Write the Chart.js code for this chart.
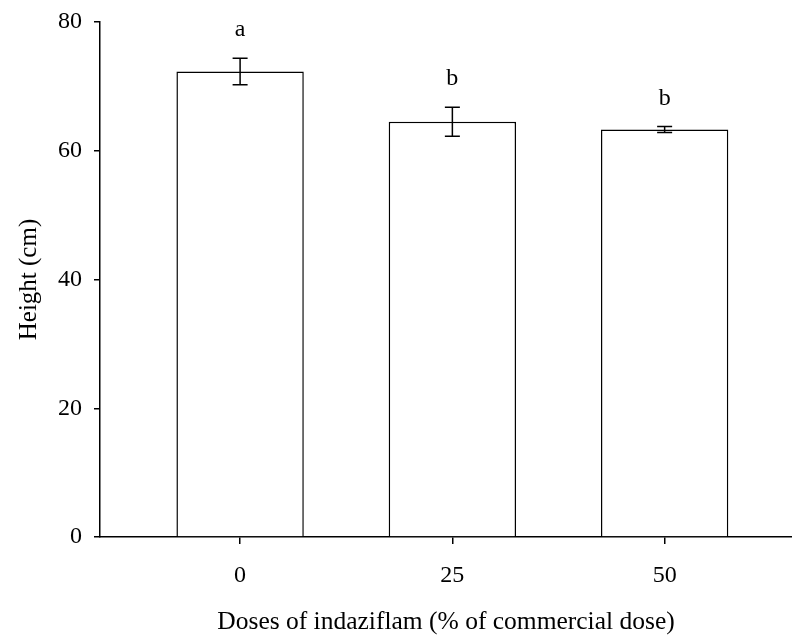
<!DOCTYPE html>
<html lang="en">
<head>
  <meta charset="UTF-8">
  <title>Height vs indaziflam dose</title>
  <script src="https://cdn.jsdelivr.net/npm/chart.js@4.4.0/dist/chart.umd.min.js"></script>
  <style>
    body { margin: 0; background: #fff; }
    #wrap { width: 792px; height: 639px; }
  </style>
</head>
<body>
  <div id="wrap"><canvas id="heightChart"></canvas></div>
  <script>
    const doses = ['0', '25', '50'];
    const heights = [72.3, 64.5, 63.3];
    const errors = [2.05, 2.25, 0.45];
    const letters = ['a', 'b', 'b'];
    const yTicks = [0, 20, 40, 60, 80];

    const FONT = '"Liberation Serif", "Times New Roman", serif';

    // error bars + significance letters
    const extras = {
      id: 'extras',
      afterDatasetsDraw(chart) {
        const { ctx, scales: { x, y } } = chart;
        ctx.save();
        ctx.strokeStyle = '#000';
        ctx.lineWidth = 1.5;
        ctx.fillStyle = '#000';
        ctx.font = '24px ' + FONT;
        ctx.textAlign = 'center';
        ctx.textBaseline = 'alphabetic';
        heights.forEach((h, i) => {
          const px = x.getPixelForValue(i);
          const top = y.getPixelForValue(h + errors[i]);
          const bot = y.getPixelForValue(h - errors[i]);
          ctx.beginPath();
          ctx.moveTo(px, top); ctx.lineTo(px, bot);
          ctx.moveTo(px - 7.5, top); ctx.lineTo(px + 7.5, top);
          ctx.moveTo(px - 7.5, bot); ctx.lineTo(px + 7.5, bot);
          ctx.stroke();
          ctx.fillText(letters[i], px, top - 22);
        });
        ctx.restore();
      }
    };

    new Chart(document.getElementById('heightChart'), {
      type: 'bar',
      data: {
        datasets: [{
          data: heights.map((v, i) => ({ x: i, y: v })),
          backgroundColor: '#fff',
          borderColor: '#000',
          borderWidth: 1.5,
          barPercentage: 1,
          categoryPercentage: 0.6
        }]
      },
      options: {
        responsive: true,
        maintainAspectRatio: false,
        animation: false,
        layout: { padding: { top: 22, right: 0, bottom: 0, left: 0 } },
        plugins: { legend: { display: false }, tooltip: { enabled: false } },
        scales: {
          x: {
            type: 'linear',
            min: -0.66,
            max: 2.6,
            offset: false,
            afterBuildTicks: s => { s.ticks = doses.map((d, i) => ({ value: i })); },
            afterFit: s => { s.height = 102; },
            border: { color: '#000', width: 1.5 },
            grid: { offset: false, drawOnChartArea: false, color: '#000', lineWidth: 1.5, tickLength: 7 },
            ticks: {
              color: '#000',
              padding: 17,
              maxRotation: 0,
              font: { family: FONT, size: 24 },
              callback: v => doses[v]
            },
            title: {
              display: true,
              text: 'Doses of indaziflam (% of commercial dose)',
              color: '#000',
              font: { family: FONT, size: 25.5 },
              padding: { top: 0, bottom: 1 }
            }
          },
          y: {
            min: 0,
            max: 80,
            afterBuildTicks: s => { s.ticks = yTicks.map(v => ({ value: v })); },
            afterFit: s => { s.width = 100; },
            border: { color: '#000', width: 1.5 },
            grid: { drawOnChartArea: false, color: '#000', lineWidth: 1.5, tickLength: 6 },
            ticks: {
              color: '#000',
              padding: 12,
              font: { family: FONT, size: 24, lineHeight: 0.8 }
            },
            title: {
              display: true,
              text: 'Height (cm)',
              color: '#000',
              font: { family: FONT, size: 25 },
              padding: { top: 14, bottom: 0 }
            }
          }
        }
      },
      plugins: [extras]
    });
  </script>
</body>
</html>
